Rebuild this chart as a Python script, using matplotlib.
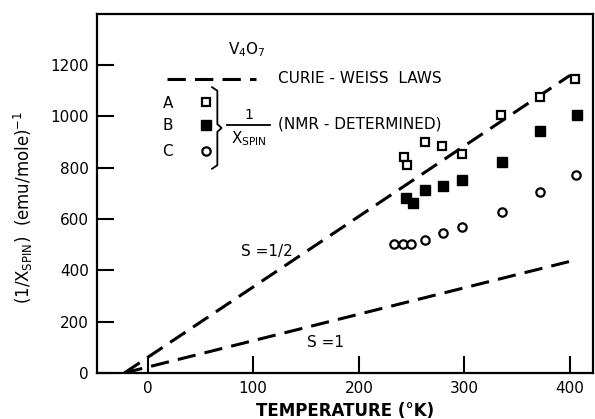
import matplotlib
matplotlib.use("Agg")
import matplotlib.pyplot as plt

# data
t_a = [243, 246, 263, 279, 298, 335, 372, 405]
a_vals = [843, 812, 901, 886, 854, 1006, 1075, 1146]

t_b = [245, 251, 263, 280, 298, 336, 372, 407]
b_vals = [680, 664, 715, 730, 753, 823, 943, 1006]

t_c = [233, 242, 249, 263, 280, 298, 336, 372, 406]
c_vals = [501, 501, 501, 517, 544, 567, 629, 707, 773]

# Curie-Weiss laws (end points of the straight lines)
t_cw = [-22, 400]
cw_half = [0, 1160]
cw_one = [0, 435]

x_ticks = [0, 100, 200, 300, 400]
y_ticks = [0, 200, 400, 600, 800, 1000, 1200]

plt.rcParams['font.family'] = ['DejaVu Sans']
plt.rcParams['mathtext.default'] = 'regular'

fig = plt.figure(figsize=(5.95, 4.19), dpi=100)
ax = fig.add_axes([0.163, 0.110, 0.834, 0.857])

dash = (6, 3)
ax.plot(t_cw, cw_half, color='black', lw=2.2, dashes=dash)
ax.plot(t_cw, cw_one, color='black', lw=2.2, dashes=dash)

ax.plot(t_a, a_vals, 's', ms=6, mfc='white', mec='black', mew=1.6)
ax.plot(t_b, b_vals, 's', ms=6.5, mfc='black', mec='black')
ax.plot(t_c, c_vals, 'o', ms=6, mfc='white', mec='black', mew=1.6)

ax.set_xlim(-48, 422)
ax.set_ylim(0, 1400)
ax.set_xticks(x_ticks)
ax.set_yticks(y_ticks)
ax.tick_params(direction='in', length=12, width=1.5, labelsize=11,
               top=False, right=False, pad=6)
for s in ax.spines.values():
    s.set_linewidth(1.6)

ax.set_xlabel('TEMPERATURE (°K)', fontsize=12, fontweight='bold', labelpad=4)
ax.set_ylabel(r'(1/X$_{SPIN}$)  (emu/mole)$^{-1}$', fontsize=12)
ax.yaxis.set_label_coords(-0.125, 0.46)

# legend block drawn by hand
ax.text(76, 1262, r'V$_4$O$_7$', fontsize=11, va='center')
ax.plot([18, 103], [1146, 1146], color='black', lw=2.2, dashes=dash)
ax.text(123, 1146, 'CURIE - WEISS  LAWS', fontsize=11, va='center')
ax.text(19, 1049, 'A', fontsize=11, va='center', ha='center')
ax.text(19, 963, 'B', fontsize=11, va='center', ha='center')
ax.text(19, 862, 'C', fontsize=11, va='center', ha='center')
ax.plot([55], [1055], 's', ms=6, mfc='white', mec='black', mew=1.6)
ax.plot([55], [968], 's', ms=6.5, mfc='black', mec='black')
ax.plot([55], [865], 'o', ms=6, mfc='white', mec='black', mew=1.6)
ax.plot([61, 66, 66, 70, 66, 66, 61], [1114, 1100, 970, 955, 940, 810, 796],
        color='black', lw=1.3)
ax.text(96, 1005, '1', fontsize=10, ha='center', va='center')
ax.plot([75, 116], [967, 967], color='black', lw=1.3)
ax.text(96, 915, r'X$_{SPIN}$', fontsize=11, ha='center', va='center')
ax.text(123, 971, '(NMR - DETERMINED)', fontsize=11, va='center')

ax.text(113, 474, 'S =1/2', fontsize=11, ha='center', va='center')
ax.text(168, 120, 'S =1', fontsize=11, ha='center', va='center')

fig.savefig('out.png', dpi=100)
